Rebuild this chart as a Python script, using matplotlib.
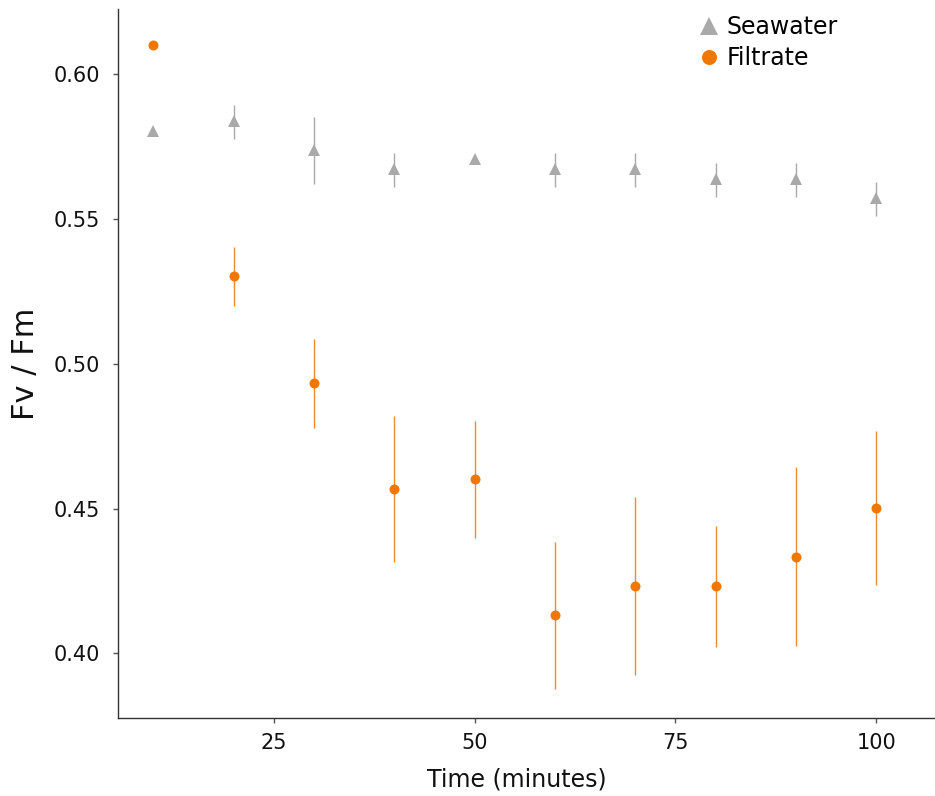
import matplotlib
matplotlib.use("Agg")
import matplotlib.pyplot as plt
from matplotlib.lines import Line2D
import numpy as np

time = [10, 20, 30, 40, 50, 60, 70, 80, 90, 100]

seawater_mean = [0.5803, 0.5837, 0.5737, 0.5672, 0.5706, 0.5672, 0.5672, 0.5637, 0.5637, 0.5572]
seawater_lo = [0.5803, 0.5776, 0.5620, 0.5610, 0.5706, 0.5610, 0.5610, 0.5575, 0.5575, 0.5510]
seawater_hi = [0.5803, 0.5893, 0.5851, 0.5727, 0.5706, 0.5727, 0.5727, 0.5693, 0.5693, 0.5627]

filtrate_mean = [0.6100, 0.5302, 0.4933, 0.4567, 0.4601, 0.4133, 0.4233, 0.4233, 0.4333, 0.4501]
filtrate_lo = [0.6100, 0.5198, 0.4778, 0.4314, 0.4398, 0.3878, 0.3926, 0.4022, 0.4024, 0.4235]
filtrate_hi = [0.6100, 0.5402, 0.5086, 0.4819, 0.4803, 0.4385, 0.4541, 0.4441, 0.4645, 0.4767]

series_names = ["Seawater", "Filtrate"]
y_ticks = [0.40, 0.45, 0.50, 0.55, 0.60]
x_ticks = [25, 50, 75, 100]

GRAY = "#A9A9A9"
ORANGE = "#F07800"

fig = plt.figure(figsize=(9.35, 7.96), dpi=100)
ax = fig.add_axes([118/935, 78/796, (935-118)/935, (718-9.3)/796])

def err(mean, lo, hi):
    m = np.array(mean)
    return [m - np.array(lo), np.array(hi) - m]

ax.errorbar(time, seawater_mean, yerr=err(seawater_mean, seawater_lo, seawater_hi),
            fmt='^', color=GRAY, ms=8, elinewidth=1.0, capsize=0, mew=0, zorder=3)
ax.errorbar(time, filtrate_mean, yerr=err(filtrate_mean, filtrate_lo, filtrate_hi),
            fmt='o', color=ORANGE, ms=7.2, elinewidth=1.0, capsize=0, mew=0,
            ecolor="#F28A2A", zorder=3)

ax.set_xlim(5.61, 107.3)
ax.set_ylim(0.3777, 0.6223)
ax.set_xticks(x_ticks)
ax.set_xticklabels([str(t) for t in x_ticks])
ax.set_yticks(y_ticks)
ax.set_yticklabels([f"{v:.2f}" for v in y_ticks])

for s in ["top", "right"]:
    ax.spines[s].set_visible(False)
for s in ["left", "bottom"]:
    ax.spines[s].set_color("#333333")
    ax.spines[s].set_linewidth(1.0)
ax.tick_params(axis="both", direction="out", length=3.5, width=1.0, color="#555555",
               labelsize=15, labelcolor="#111111")
ax.tick_params(axis="x", pad=7.5)
ax.tick_params(axis="y", pad=9.5)

ax.set_xlabel("Time (minutes)", fontsize=17, color="#111111")
ax.xaxis.set_label_coords((517 - 118) / 817, -0.070)
ax.set_ylabel("Fv / Fm", fontsize=22, labelpad=10, color="#111111")

handles = [
    Line2D([], [], linestyle="none", marker="^", color=GRAY, ms=13, mew=0),
    Line2D([], [], linestyle="none", marker="o", color=ORANGE, ms=10.8, mew=0),
]
leg = ax.legend(handles, series_names, loc="upper left",
                bbox_to_anchor=(699.6/935, 1 - 15/796),
                bbox_transform=fig.transFigure, frameon=False, fontsize=17,
                handlelength=0.8, handletextpad=0.35, labelspacing=0.3,
                borderpad=0, borderaxespad=0)

fig.savefig("out.png", dpi=100)
